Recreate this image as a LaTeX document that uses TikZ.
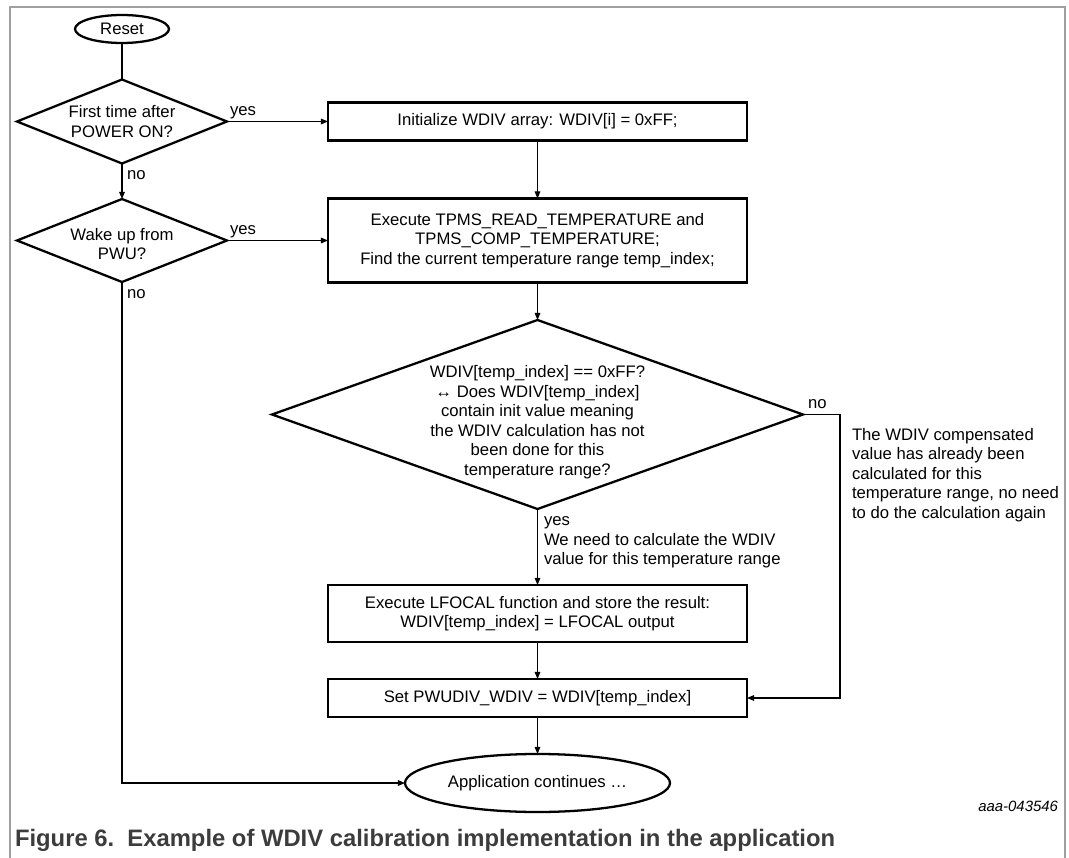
\documentclass[tikz,border=0pt]{standalone}
\usepackage{fontspec}
\setmainfont{Liberation Sans}
\usetikzlibrary{shapes.geometric,arrows.meta}
\newdimen\pxu \pxu=0.02cm
\definecolor{framegray}{HTML}{A0A0A0}
\definecolor{capgray}{HTML}{3C3C3C}
\begin{document}
\begin{tikzpicture}[x=0.02cm,y=-0.02cm,
  every node/.style={font=\fontsize{9.5}{11.1}\selectfont, inner sep=0pt, outer sep=0pt},
  boxn/.style={draw, line width=1.3pt, minimum width=419\pxu, align=center},
  dia/.style={draw, diamond, line width=1.3pt},
  term/.style={draw, ellipse, line width=1.3pt},
  conn/.style={line width=0.6pt},
  arr/.style={conn, -{Triangle[length=4pt,width=3.2pt]}},
  lbl/.style={anchor=base west},
  note/.style={anchor=north west, align=left}
]
\useasboundingbox (0,0) rectangle (1069,858);
% frame
\draw[framegray, line width=0.7pt] (10,858) -- (10,7) -- (1065,7) -- (1065,858);

% nodes
\node[term, minimum width=94\pxu, minimum height=28\pxu] (reset) at (122,29) {Reset};
\node[dia, minimum width=210\pxu, minimum height=84\pxu] (d1) at (122,121.5) {};
\node[align=center] (d1t) at (122,121.5) {First time after\\POWER ON?};
\node[boxn, minimum height=38\pxu] (b1) at (537.5,121.5) {Initialize WDIV array: WDIV[i] = 0xFF;};
\node[dia, minimum width=210\pxu, minimum height=83\pxu] (d2) at (122,240.5) {};
\node[align=center] (d2t) at (122,244) {Wake up from\\PWU?};
\node[boxn, minimum height=84\pxu] (b2) at (537.5,240.5) {Execute TPMS\_READ\_TEMPERATURE and\\TPMS\_COMP\_TEMPERATURE;\\Find the current temperature range temp\_index;};
\node[dia, minimum width=531\pxu, minimum height=189\pxu] (d3) at (537.5,414.5) {};
\node[align=center] (d3t) at (537.5,422) {WDIV[temp\_index] == 0xFF?\\↔ Does WDIV[temp\_index]\\contain init value meaning\\the WDIV calculation has not\\been done for this\\temperature range?};
\node[boxn, minimum height=57\pxu] (b3) at (537.5,613.5) {Execute LFOCAL function and store the result:\\WDIV[temp\_index] = LFOCAL output};
\node[boxn, minimum height=38\pxu] (b4) at (537.5,698) {Set PWUDIV\_WDIV = WDIV[temp\_index]};
\node[term, minimum width=265\pxu, minimum height=58\pxu] (app) at (537.5,783) {Application continues …};

% connectors
\coordinate (rc) at (840,414.5);
\draw[conn] (reset.south) -- (d1.north);
\draw[arr] (d1.east) -- (b1.west);
\draw[arr] (d1.south) -- (d2.north);
\draw[arr] (d2.east) -- (b2.west);
\draw[arr] (b1.south) -- (b2.north);
\draw[arr] (b2.south) -- (d3.north);
\draw[arr] (d3.south) -- (b3.north);
\draw[arr] (b3.south) -- (b4.north);
\draw[arr] (b4.south) -- (app.north);
\draw[arr] (d3.east) -- (rc) |- (b4.east);
\draw[arr] (d2.south) |- (app.west);

% labels
\node[lbl] (y1) at (230,116) {yes};
\node[lbl] (n1) at (127,180) {no};
\node[lbl] (y2) at (230,235) {yes};
\node[lbl] (n2) at (127,299) {no};
\node[lbl] (n3) at (808,408) {no};
\node[note] (nt) at (852,428) {The WDIV compensated\\value has already been\\calculated for this\\temperature range, no need\\to do the calculation again};
\node[note] (yt) at (544,517) {yes\\We need to calculate the WDIV\\value for this temperature range};

\node[anchor=base east, font=\fontsize{8.5}{10}\selectfont\itshape] (id) at (1058,811) {aaa-043546};
\node[anchor=base west, text=capgray, font=\fontsize{13.55}{15}\selectfont\bfseries] (cap) at (15,846) {Figure 6.\ \ Example of WDIV calibration implementation in the application};
\end{tikzpicture}
\end{document}
